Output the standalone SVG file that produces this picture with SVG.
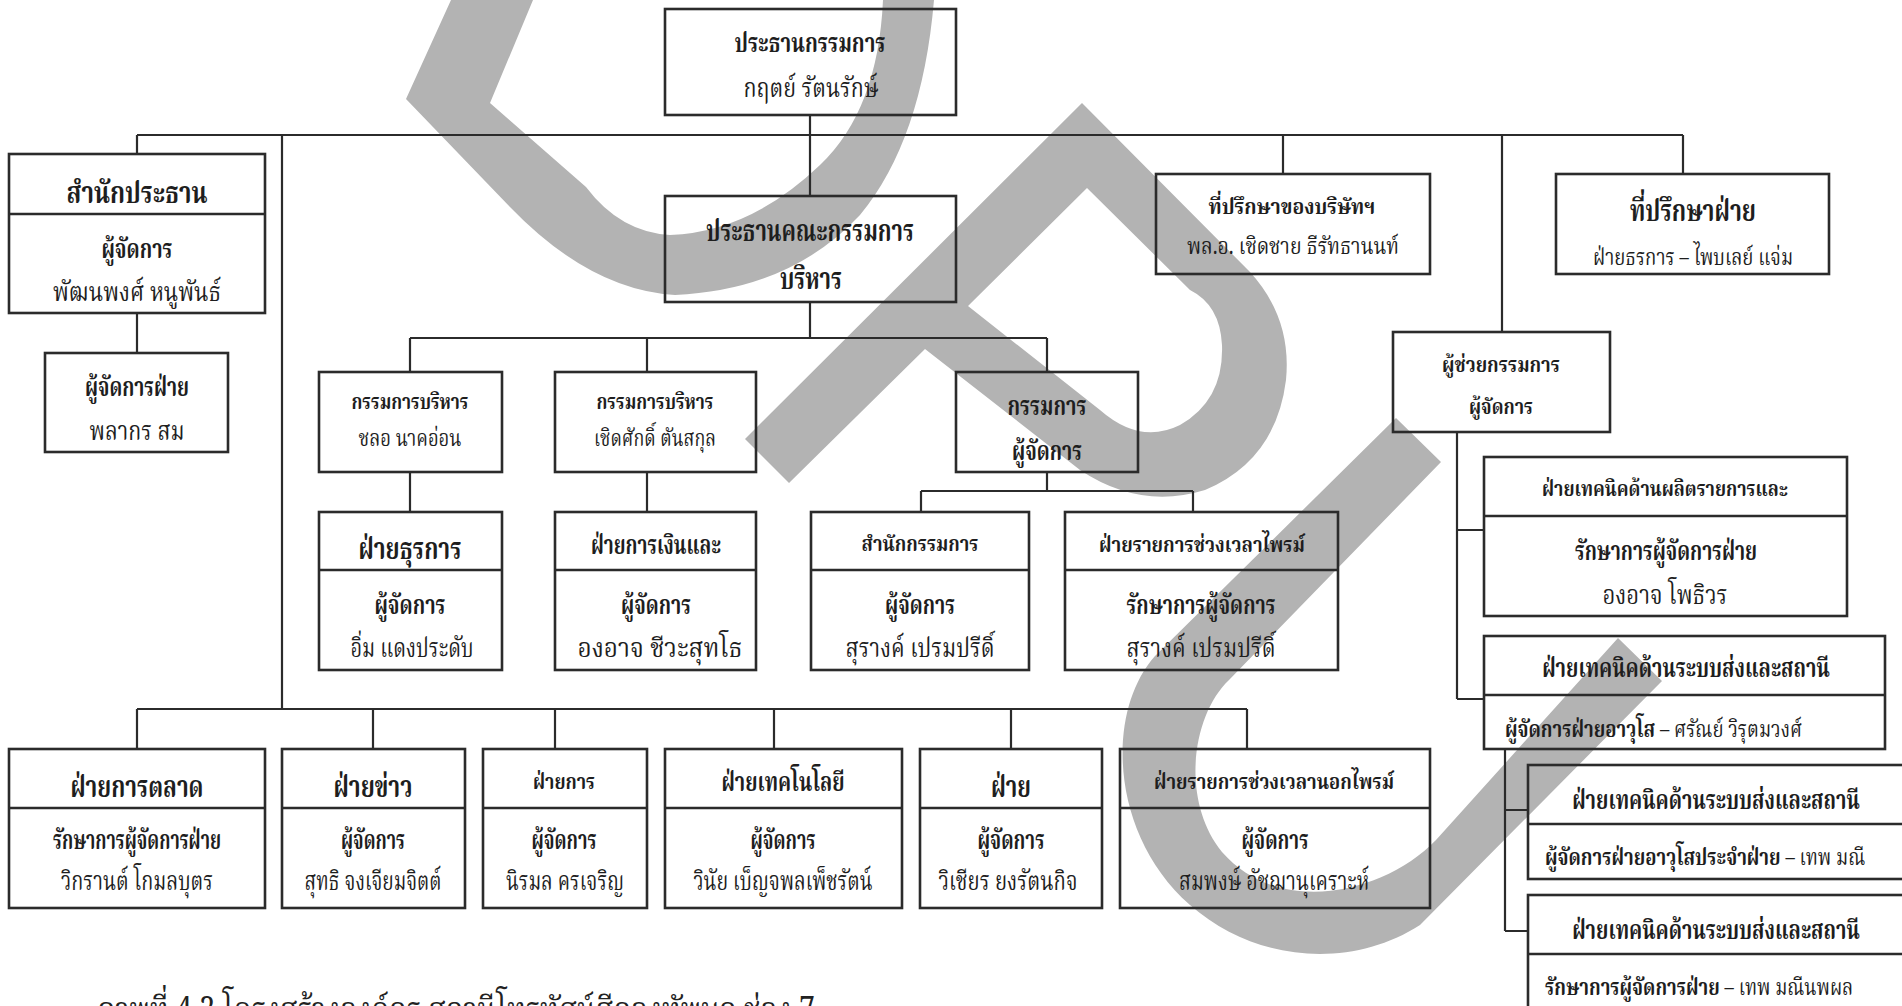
<svg xmlns="http://www.w3.org/2000/svg" width="1902" height="1006" viewBox="0 0 1902 1006">
<style>
.bg{fill:#ffffff}
.wm{fill:#b3b3b3;fill-rule:evenodd}
.bx{fill:none;stroke:#2b2b2b;stroke-width:2.6}
.cn{fill:none;stroke:#2b2b2b;stroke-width:2.2}
text{font-family:"Noto Serif Thai","Noto Sans Thai","Loma","Garuda","Liberation Sans",sans-serif;fill:#1e1e1e;text-anchor:middle}
.b1{font-size:30px;font-weight:700}
.b2{font-size:26px;font-weight:700}
.b3{font-size:22px;font-weight:700}
.r2{font-size:26px;font-weight:400}
.r3{font-size:23px;font-weight:400}
.st{text-anchor:start}
.bw{font-weight:700}
.cap{font-size:34px;font-weight:400;text-anchor:start;fill:#222}
</style>
<rect class="bg" x="0" y="0" width="1902" height="1006"/>
<g id="watermark">
<path class="wm" d="M451,0 L406,99 L510,207 Q590,290 675,295 Q790,290 860,215 Q922,140 934,0 L883,0 Q878,110 820,165 Q750,232 670,235 Q620,232 586,187 L490,103 L533,0 Z"/>
<path class="wm" d="M745,439 L1082,103 L1250,272 Q1292,318 1286,380 Q1276,460 1205,490 Q1140,510 1080,470 L925,349 L789,483 Z M1087,188 L968,306 L1100,410 Q1140,445 1180,425 Q1224,400 1222,345 Q1220,305 1190,290 Z"/>
<path class="wm" d="M1396,418 L1155,656 C1105,712 1110,835 1190,905 C1255,962 1350,970 1420,925 L1662,681 L1618,638 L1436,840 C1385,893 1280,918 1222,852 C1180,800 1192,715 1229,680 L1441,462 Z"/>
</g>
<g id="connectors">
<path class="cn" d="M137,135 H1683 M810,115 V196 M137,135 V154 M137,313 V353 M282,135 V709 M1283,135 V174 M1683,135 V174 M1502,135 V332"/>
<path class="cn" d="M810,302 V338 M410,338 H1047 M410,338 V372 M647,338 V372 M1047,338 V372 M410,472 V512 M647,472 V512"/>
<path class="cn" d="M1047,472 V491 M921,491 H1193 M921,491 V512 M1193,491 V512"/>
<path class="cn" d="M137,709 H1247 M137,709 V749 M373,709 V749 M555,709 V749 M774,709 V749 M1011,709 V749 M1247,709 V749"/>
<path class="cn" d="M1457,432 V699 M1457,530 H1484 M1457,699 H1484 M1505,749 V931 M1505,810 H1528 M1505,931 H1528"/>
</g>
<g id="n-chairman"><rect class="bx" x="665" y="9" width="291" height="106"/>
<text class="b2" x="810" y="52" textLength="151" lengthAdjust="spacingAndGlyphs">ประธานกรรมการ</text>
<text class="r2" x="811" y="97" textLength="135" lengthAdjust="spacingAndGlyphs">กฤตย์ รัตนรักษ์</text></g>
<g id="n-office-chair"><rect class="bx" x="9" y="154" width="256" height="159"/><path class="bx" d="M9,214 H265"/>
<text class="b1" x="137" y="203" textLength="141" lengthAdjust="spacingAndGlyphs">สำนักประธาน</text>
<text class="b2" x="137" y="258" textLength="71" lengthAdjust="spacingAndGlyphs">ผู้จัดการ</text>
<text class="r2" x="137" y="301" textLength="168" lengthAdjust="spacingAndGlyphs">พัฒนพงศ์ หนูพันธ์</text></g>
<g id="n-office-mgr"><rect class="bx" x="45" y="353" width="183" height="99"/>
<text class="b2" x="137" y="396" textLength="104" lengthAdjust="spacingAndGlyphs">ผู้จัดการฝ่าย</text>
<text class="r2" x="137" y="440" textLength="95" lengthAdjust="spacingAndGlyphs">พลากร สม</text></g>
<g id="n-exec-chair"><rect class="bx" x="665" y="196" width="291" height="106"/>
<text class="b1" x="810" y="241" textLength="208" lengthAdjust="spacingAndGlyphs">ประธานคณะกรรมการ</text>
<text class="b1" x="811" y="289" textLength="62" lengthAdjust="spacingAndGlyphs">บริหาร</text></g>
<g id="n-advisor-co"><rect class="bx" x="1156" y="174" width="274" height="100"/>
<text class="b3" x="1292" y="214" textLength="167" lengthAdjust="spacingAndGlyphs">ที่ปรึกษาของบริษัทฯ</text>
<text class="r3" x="1293" y="254" textLength="212" lengthAdjust="spacingAndGlyphs">พล.อ. เชิดชาย ธีรัทธานนท์</text></g>
<g id="n-advisor-div"><rect class="bx" x="1556" y="174" width="273" height="100"/>
<text class="b1" x="1693" y="221" textLength="126" lengthAdjust="spacingAndGlyphs">ที่ปรึกษาฝ่าย</text>
<text class="r3" x="1693" y="265" textLength="200" lengthAdjust="spacingAndGlyphs">ฝ่ายธรการ – ไพบเลย์ แจ่ม</text></g>
<g id="n-exec1"><rect class="bx" x="319" y="372" width="183" height="100"/>
<text class="b3" x="410" y="409" textLength="117" lengthAdjust="spacingAndGlyphs">กรรมการบริหาร</text>
<text class="r3" x="410" y="446" textLength="103" lengthAdjust="spacingAndGlyphs">ชลอ นาคอ่อน</text></g>
<g id="n-exec2"><rect class="bx" x="555" y="372" width="201" height="100"/>
<text class="b3" x="655" y="409" textLength="117" lengthAdjust="spacingAndGlyphs">กรรมการบริหาร</text>
<text class="r3" x="655" y="446" textLength="122" lengthAdjust="spacingAndGlyphs">เชิดศักดิ์ ตันสกุล</text></g>
<g id="n-md"><rect class="bx" x="956" y="372" width="182" height="100"/>
<text class="b2" x="1047" y="415" textLength="79" lengthAdjust="spacingAndGlyphs">กรรมการ</text>
<text class="b2" x="1047" y="460" textLength="70" lengthAdjust="spacingAndGlyphs">ผู้จัดการ</text></g>
<g id="n-asst-md"><rect class="bx" x="1393" y="332" width="217" height="100"/>
<text class="b3" x="1501" y="372" textLength="118" lengthAdjust="spacingAndGlyphs">ผู้ช่วยกรรมการ</text>
<text class="b3" x="1501" y="414" textLength="64" lengthAdjust="spacingAndGlyphs">ผู้จัดการ</text></g>
<g id="n-admin"><rect class="bx" x="319" y="512" width="183" height="158"/><path class="bx" d="M319,570 H502"/>
<text class="b1" x="410" y="559" textLength="103" lengthAdjust="spacingAndGlyphs">ฝ่ายธุรการ</text>
<text class="b2" x="410" y="614" textLength="71" lengthAdjust="spacingAndGlyphs">ผู้จัดการ</text>
<text class="r2" x="412" y="657" textLength="123" lengthAdjust="spacingAndGlyphs">อิ่ม แดงประดับ</text></g>
<g id="n-finance"><rect class="bx" x="555" y="512" width="201" height="158"/><path class="bx" d="M555,570 H756"/>
<text class="b2" x="656" y="554" textLength="130" lengthAdjust="spacingAndGlyphs">ฝ่ายการเงินและ</text>
<text class="b2" x="656" y="614" textLength="70" lengthAdjust="spacingAndGlyphs">ผู้จัดการ</text>
<text class="r2" x="660" y="657" textLength="165" lengthAdjust="spacingAndGlyphs">องอาจ ชีวะสุทโธ</text></g>
<g id="n-md-office"><rect class="bx" x="811" y="512" width="218" height="158"/><path class="bx" d="M811,570 H1029"/>
<text class="b3" x="920" y="551" textLength="117" lengthAdjust="spacingAndGlyphs">สำนักกรรมการ</text>
<text class="b2" x="920" y="614" textLength="70" lengthAdjust="spacingAndGlyphs">ผู้จัดการ</text>
<text class="r2" x="920" y="657" textLength="149" lengthAdjust="spacingAndGlyphs">สุรางค์ เปรมปรีดิ์</text></g>
<g id="n-prime"><rect class="bx" x="1065" y="512" width="273" height="158"/><path class="bx" d="M1065,570 H1338"/>
<text class="b3" x="1202" y="552" textLength="206" lengthAdjust="spacingAndGlyphs">ฝ่ายรายการช่วงเวลาไพรม์</text>
<text class="b2" x="1201" y="614" textLength="149" lengthAdjust="spacingAndGlyphs">รักษาการผู้จัดการ</text>
<text class="r2" x="1201" y="657" textLength="149" lengthAdjust="spacingAndGlyphs">สุรางค์ เปรมปรีดิ์</text></g>
<g id="n-tech-prod"><rect class="bx" x="1484" y="457" width="363" height="159"/><path class="bx" d="M1484,516 H1847"/>
<text class="b3" x="1665" y="496" textLength="246" lengthAdjust="spacingAndGlyphs">ฝ่ายเทคนิคด้านผลิตรายการและ</text>
<text class="b2" x="1666" y="560" textLength="182" lengthAdjust="spacingAndGlyphs">รักษาการผู้จัดการฝ่าย</text>
<text class="r2" x="1665" y="604" textLength="125" lengthAdjust="spacingAndGlyphs">องอาจ โพธิวร</text></g>
<g id="n-tech-tx1"><rect class="bx" x="1484" y="636" width="401" height="113"/><path class="bx" d="M1484,695 H1885"/>
<text class="b2" transform="translate(1686,677) scale(0.7,1)" x="0" y="0" textLength="411" lengthAdjust="spacingAndGlyphs">ฝ่ายเทคนิคด้านระบบส่งและสถานี</text>
<text class="r3 st" transform="translate(1505,737) scale(0.75,1)" x="0" y="0" textLength="396" lengthAdjust="spacingAndGlyphs"><tspan class="bw">ผู้จัดการฝ่ายอาวุโส</tspan> – ศรัณย์ วิรุตมวงศ์</text></g>
<g id="n-tech-tx2"><rect class="bx" x="1528" y="765" width="400" height="114"/><path class="bx" d="M1528,824 H1928"/>
<text class="b2" transform="translate(1716,809) scale(0.7,1)" x="0" y="0" textLength="411" lengthAdjust="spacingAndGlyphs">ฝ่ายเทคนิคด้านระบบส่งและสถานี</text>
<text class="r3 st" transform="translate(1545,865) scale(0.75,1)" x="0" y="0" textLength="427" lengthAdjust="spacingAndGlyphs"><tspan class="bw">ผู้จัดการฝ่ายอาวุโสประจำฝ่าย</tspan> – เทพ  มณี</text></g>
<g id="n-tech-tx3"><rect class="bx" x="1528" y="895" width="400" height="130"/><path class="bx" d="M1528,954 H1928"/>
<text class="b2" transform="translate(1716,939) scale(0.7,1)" x="0" y="0" textLength="411" lengthAdjust="spacingAndGlyphs">ฝ่ายเทคนิคด้านระบบส่งและสถานี</text>
<text class="r3 st" transform="translate(1545,995) scale(0.75,1)" x="0" y="0" textLength="411" lengthAdjust="spacingAndGlyphs"><tspan class="bw">รักษาการผู้จัดการฝ่าย</tspan> – เทพ  มณีนพผล</text></g>
<g id="n-marketing"><rect class="bx" x="9" y="749" width="256" height="159"/><path class="bx" d="M9,808 H265"/>
<text class="b1" x="137" y="797" textLength="133" lengthAdjust="spacingAndGlyphs">ฝ่ายการตลาด</text>
<text class="b2" x="137" y="849" textLength="168" lengthAdjust="spacingAndGlyphs">รักษาการผู้จัดการฝ่าย</text>
<text class="r2" x="137" y="890" textLength="152" lengthAdjust="spacingAndGlyphs">วิกรานต์ โกมลบุตร</text></g>
<g id="n-news"><rect class="bx" x="282" y="749" width="183" height="159"/><path class="bx" d="M282,808 H465"/>
<text class="b1" x="373" y="797" textLength="79" lengthAdjust="spacingAndGlyphs">ฝ่ายข่าว</text>
<text class="b2" x="373" y="849" textLength="64" lengthAdjust="spacingAndGlyphs">ผู้จัดการ</text>
<text class="r2" x="373" y="890" textLength="137" lengthAdjust="spacingAndGlyphs">สุทธิ จงเจียมจิตต์</text></g>
<g id="n-div-a"><rect class="bx" x="483" y="749" width="164" height="159"/><path class="bx" d="M483,808 H647"/>
<text class="b3" x="564" y="789" textLength="62" lengthAdjust="spacingAndGlyphs">ฝ่ายการ</text>
<text class="b2" x="564" y="849" textLength="65" lengthAdjust="spacingAndGlyphs">ผู้จัดการ</text>
<text class="r2" x="565" y="890" textLength="118" lengthAdjust="spacingAndGlyphs">นิรมล ครเจริญ</text></g>
<g id="n-tech"><rect class="bx" x="665" y="749" width="237" height="159"/><path class="bx" d="M665,808 H902"/>
<text class="b2" x="783" y="791" textLength="123" lengthAdjust="spacingAndGlyphs">ฝ่ายเทคโนโลยี</text>
<text class="b2" x="783" y="849" textLength="65" lengthAdjust="spacingAndGlyphs">ผู้จัดการ</text>
<text class="r2" x="783" y="890" textLength="179" lengthAdjust="spacingAndGlyphs">วินัย เบ็ญจพลเพ็ชรัตน์</text></g>
<g id="n-div-b"><rect class="bx" x="920" y="749" width="182" height="159"/><path class="bx" d="M920,808 H1102"/>
<text class="b1" x="1011" y="797" textLength="40" lengthAdjust="spacingAndGlyphs">ฝ่าย</text>
<text class="b2" x="1011" y="849" textLength="67" lengthAdjust="spacingAndGlyphs">ผู้จัดการ</text>
<text class="r2" x="1008" y="890" textLength="139" lengthAdjust="spacingAndGlyphs">วิเชียร ยงรัตนกิจ</text></g>
<g id="n-nonprime"><rect class="bx" x="1120" y="749" width="310" height="159"/><path class="bx" d="M1120,808 H1430"/>
<text class="b3" x="1274" y="789" textLength="240" lengthAdjust="spacingAndGlyphs">ฝ่ายรายการช่วงเวลานอกไพรม์</text>
<text class="b2" x="1275" y="849" textLength="67" lengthAdjust="spacingAndGlyphs">ผู้จัดการ</text>
<text class="r2" x="1274" y="890" textLength="190" lengthAdjust="spacingAndGlyphs">สมพงษ์ อัชฌานุเคราะห์</text></g>
<text id="caption" class="cap" x="97" y="1021" textLength="718" lengthAdjust="spacingAndGlyphs">ภาพที่ 4.2  โครงสร้างองค์กร สถานีโทรทัศน์สีกองทัพบก ช่อง 7</text>
</svg>
